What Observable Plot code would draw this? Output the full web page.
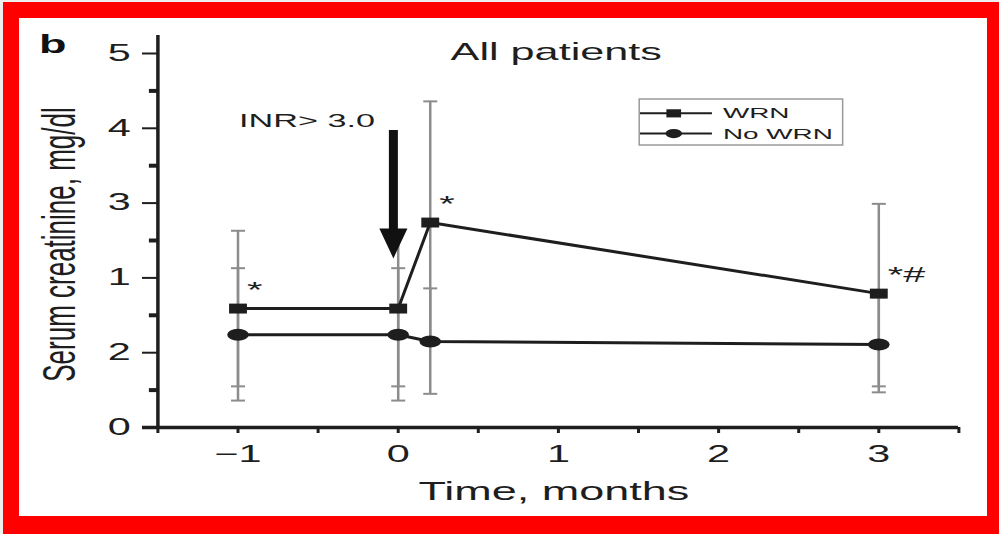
<!DOCTYPE html>
<html>
<head>
<meta charset="utf-8">
<script src="https://cdn.jsdelivr.net/npm/d3@7"></script>
<script src="https://cdn.jsdelivr.net/npm/@observablehq/plot@0.6"></script>
<style>
  html, body { margin: 0; padding: 0; width: 999px; height: 534px; overflow: hidden; background: #eeeeee; }
  #frame {
    position: absolute; left: 3px; top: 2px; width: 968px; height: 498px;
    border-style: solid; border-color: #ff0000; border-width: 16px 12px 18px 16px;
    background: #ffffff;
  }
  #frame svg * { vector-effect: non-scaling-stroke; }
</style>
</head>
<body>
<div id="frame"></div>
<script>
// Time points, months relative to the first INR > 3.0
const times = [-1, 0, 0.2, 3];

// Serum creatinine, mg/dl: patients with warfarin-related nephropathy
const wrnMean = [1.59, 1.59, 2.74, 1.79];
const wrnLow  = [0.55, 0.55, 1.12, 0.55];
const wrnHigh = [2.63, 2.63, 4.36, 2.99];

// Serum creatinine, mg/dl: patients without WRN
const noWrnMean = [1.24, 1.24, 1.15, 1.11];
const noWrnLow  = [0.36, 0.36, 0.45, 0.47];
const noWrnHigh = [2.13, 2.13, 1.86, 1.74];

// Significance marks on the WRN series
const sigLabels = ["*", "", "*", "*#"];

// Axis ticks and their labels
const yTicks = [0, 1, 2, 3, 4, 5];
const yTickLabels = ["0", "2", "1", "3", "4", "5"];
const yMinorTicks = [0.5, 1.5, 2.5, 3.5, 4.5];
const xTicks = [-1, 0, 1, 2, 3];
const xAllTicks = [-1.5, -1, -0.5, 0, 0.5, 1, 1.5, 2, 2.5, 3, 3.5];

const seriesNames = ["WRN", "No WRN"];
const inrArrow = {x: -0.03, from: 3.97, to: 2.26, label: "INR> 3.0"};

// The figure is drawn narrow and widened horizontally as a whole
const SX = 1.8;
const W = 968, H = 498;
const ink = "#1e1e1e";

const wrn = times.map((t, i) => ({t, mean: wrnMean[i], low: wrnLow[i], high: wrnHigh[i], sig: sigLabels[i]}));
const noWrn = times.map((t, i) => ({t, mean: noWrnMean[i], low: noWrnLow[i], high: noWrnHigh[i]}));
const bars = [...wrn, ...noWrn];

// horizontal tick path centred on the point (error-bar caps)
const hCap = (half) => ({draw(ctx) { ctx.moveTo(-half, 0); ctx.lineTo(half, 0); }});
// horizontal tick path extending left of the point (minor y ticks)
const hLeft = (len) => ({draw(ctx) { ctx.moveTo(-len, 0); ctx.lineTo(0, 0); }});
// narrow downward triangle for the arrow head
const arrowHead = {
  draw(ctx, size) {
    const r = Math.sqrt(size / Math.PI);
    ctx.moveTo(-0.52 * r, -r);
    ctx.lineTo(0.52 * r, -r);
    ctx.lineTo(0, r);
    ctx.closePath();
  }
};

const fmtX = d => d < 0 ? "\u2212" + (-d) : String(d);

// Legend placed in the upper right of the plotting area (data units)
const legendBox = {x1: 1.51, x2: 2.78, y1: 3.77, y2: 4.385};
const legendRows = seriesNames.map((name, i) => ({
  name, symbol: i === 0 ? "square" : "circle", y: i === 0 ? 4.2 : 3.93
}));

const chart = Plot.plot({
  width: W / SX,
  height: H,
  marginLeft: 138 / SX,
  marginRight: (W - 939) / SX,
  marginTop: 35,
  marginBottom: H - 409,
  x: {domain: [-1.5, 3.5], label: null},
  y: {domain: [0, 5], label: null},
  style: {fontFamily: "'Liberation Sans', Arial, Helvetica, sans-serif", fontSize: "23px", color: ink, background: "transparent", overflow: "visible"},
  marks: [
    // axes
    Plot.ruleX([-1.5], {y1: 0, y2: 5.24, stroke: ink, strokeWidth: 3.5}),
    Plot.ruleY([0], {x1: -1.5 - 15 / 160.2, x2: 3.5, stroke: ink, strokeWidth: 3.5}),
    Plot.axisY(yTicks, {tickSize: 15 / SX, tickPadding: 12 / SX, strokeWidth: 2, fontSize: 23,
      tickFormat: d => yTickLabels[yTicks.indexOf(d)], label: null}),
    Plot.dot(yMinorTicks, {x: () => -1.5, y: d => d, symbol: hLeft(9 / SX), r: 1, stroke: ink, strokeWidth: 4, fill: "none"}),
    Plot.axisX(xAllTicks, {tickSize: 6, tickPadding: 12, strokeWidth: 3, fontSize: 23,
      tickFormat: d => xTicks.includes(d) ? fmtX(d) : "", label: null}),

    // error bars
    Plot.ruleX(bars, {x: "t", y1: "low", y2: "high", stroke: "#8c8c8c", strokeWidth: 2.5}),
    Plot.dot(bars, {x: "t", y: "low", symbol: hCap(7 / SX), r: 1, stroke: "#8c8c8c", strokeWidth: 2, fill: "none"}),
    Plot.dot(bars, {x: "t", y: "high", symbol: hCap(7 / SX), r: 1, stroke: "#8c8c8c", strokeWidth: 2, fill: "none"}),

    // series
    Plot.line(noWrn, {x: "t", y: "mean", stroke: ink, strokeWidth: 3}),
    Plot.line(wrn, {x: "t", y: "mean", stroke: ink, strokeWidth: 3}),
    Plot.dot(noWrn, {x: "t", y: "mean", symbol: "circle", r: 6, fill: ink, stroke: "none"}),
    Plot.dot(wrn, {x: "t", y: "mean", symbol: "square", r: 5.6, fill: ink, stroke: "none"}),
    Plot.text(wrn, {x: "t", y: "mean", text: "sig", textAnchor: "start", lineAnchor: "middle",
      dx: 5, dy: -19, fontSize: 22, fill: ink}),

    // INR > 3.0 arrow
    Plot.ruleX([inrArrow], {x: "x", y1: "from", y2: "to", insetBottom: 15, stroke: "#111", strokeWidth: 9}),
    Plot.dot([inrArrow], {x: "x", y: "to", symbol: arrowHead, r: 15, dy: -15, fill: "#111", stroke: "none"}),
    Plot.text([inrArrow], {x: "x", y: "from", text: "label", dx: -48, dy: -10, fontSize: 19,
      textAnchor: "middle", lineAnchor: "middle", fill: ink}),

    // legend
    Plot.rect([legendBox], {x1: "x1", x2: "x2", y1: "y1", y2: "y2", fill: "white", stroke: "#9a9a9a", strokeWidth: 1.5}),
    Plot.ruleY(legendRows, {y: "y", x1: 1.515, x2: 1.964, stroke: ink, strokeWidth: 2}),
    Plot.dot(legendRows, {x: () => 1.72, y: "y", symbol: "symbol", r: 4.6, fill: ink, stroke: "none"}),
    Plot.text(legendRows, {x: () => 2.027, y: "y", text: "name", textAnchor: "start", lineAnchor: "middle",
      fontSize: 15.5, fill: ink}),

    // titles
    Plot.text(["All patients"], {frameAnchor: "top", dx: -1.2, dy: -1.5, lineAnchor: "middle", fontSize: 24, fill: ink}),
    Plot.text(["b"], {frameAnchor: "top-left", dx: -66, dy: -9, textAnchor: "start", lineAnchor: "middle",
      fontSize: 25, fontWeight: "bold", fill: "#111"}),
    Plot.text(["Serum creatinine, mg/dl"], {frameAnchor: "left", dx: -54.5, dy: 4, rotate: -90,
      textAnchor: "middle", lineAnchor: "middle", fontSize: 26, fill: ink}),
    Plot.text(["Time, months"], {frameAnchor: "bottom", dx: -2.5, dy: 64, lineAnchor: "middle", fontSize: 25, fill: ink})
  ]
});

// widen the drawing horizontally; strokes keep their on-screen widths
const ns = "http://www.w3.org/2000/svg";
const wrap = document.createElementNS(ns, "g");
wrap.setAttribute("transform", `scale(${SX},1)`);
while (chart.firstChild) wrap.appendChild(chart.firstChild);
chart.appendChild(wrap);
chart.setAttribute("width", W);
chart.setAttribute("height", H);
chart.setAttribute("viewBox", `0 0 ${W} ${H}`);
document.getElementById("frame").appendChild(chart);
</script>
</body>
</html>
